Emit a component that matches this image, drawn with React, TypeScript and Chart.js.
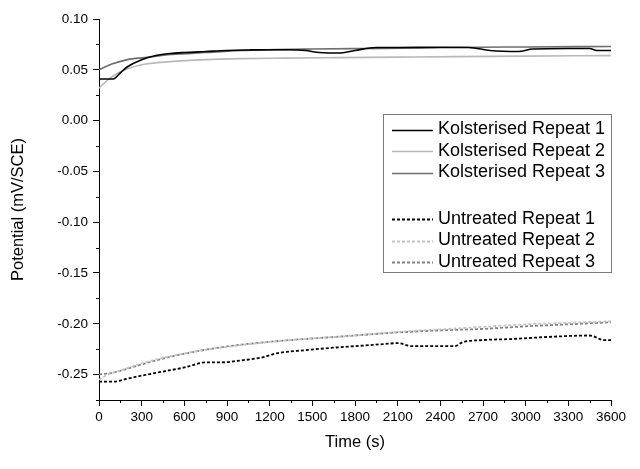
import React, { useEffect, useRef } from "react";
import { Chart, registerables } from "chart.js";

Chart.register(...registerables);

// ---- Data (time in s, potential in mV/SCE) ----
const k1Time = [0, 50, 100, 150, 200, 300, 400, 500, 600, 750, 900, 1050, 1200, 1350, 1450, 1550, 1700, 1800, 1950, 2100, 2400, 2600, 2750, 2950, 3050, 3300, 3450, 3500, 3600];
const k1Values = [0.041, 0.041, 0.041, 0.047, 0.053, 0.06, 0.064, 0.066, 0.067, 0.068, 0.069, 0.0695, 0.0698, 0.0698, 0.069, 0.067, 0.0665, 0.069, 0.072, 0.072, 0.0722, 0.072, 0.069, 0.068, 0.0705, 0.071, 0.071, 0.069, 0.069];

const k2Time = [0, 30, 80, 150, 200, 300, 500, 750, 1000, 1300, 1700, 2100, 2500, 3000, 3600];
const k2Values = [0.032, 0.036, 0.042, 0.048, 0.051, 0.055, 0.058, 0.06, 0.061, 0.0615, 0.062, 0.0625, 0.063, 0.0635, 0.064];

const k3Time = [0, 90, 200, 320, 510, 750, 1000, 1500, 2000, 2500, 3000, 3600];
const k3Values = [0.05, 0.0556, 0.06, 0.062, 0.065, 0.067, 0.069, 0.0705, 0.071, 0.072, 0.0725, 0.073];

const u1Time = [0, 100, 200, 300, 450, 600, 750, 850, 1000, 1150, 1250, 1450, 1650, 1800, 2000, 2100, 2200, 2500, 2560, 2700, 2900, 3150, 3450, 3550, 3600];
const u1Values = [-0.257, -0.257, -0.254, -0.251, -0.247, -0.243, -0.238, -0.238, -0.236, -0.233, -0.229, -0.226, -0.2235, -0.222, -0.22, -0.219, -0.222, -0.222, -0.218, -0.216, -0.215, -0.213, -0.2115, -0.216, -0.216];

const u2Time = [0, 60, 150, 300, 500, 750, 1000, 1300, 1600, 1800, 2100, 2400, 2700, 3000, 3300, 3600];
const u2Values = [-0.255, -0.25, -0.246, -0.239, -0.232, -0.2255, -0.221, -0.2165, -0.2135, -0.2115, -0.208, -0.2055, -0.203, -0.2005, -0.199, -0.1975];

const u3Time = [0, 100, 300, 500, 750, 1000, 1300, 1600, 1800, 2100, 2400, 2700, 3000, 3300, 3600];
const u3Values = [-0.25, -0.248, -0.24, -0.2325, -0.2255, -0.2205, -0.2165, -0.2135, -0.2115, -0.2085, -0.2065, -0.205, -0.2025, -0.2005, -0.1985];

const seriesLabels = [
  "Kolsterised Repeat 1",
  "Kolsterised Repeat 2",
  "Kolsterised Repeat 3",
  "Untreated Repeat 1",
  "Untreated Repeat 2",
  "Untreated Repeat 3",
];

const xMin = 0;
const xMax = 3600;
const xMajorStep = 300;
const yMin = -0.275;
const yMax = 0.1;
const yMajorStep = 0.05;

const xAxisTitle = "Time (s)";
const yAxisTitle = "Potential (mV/SCE)";

const FONT = "'Liberation Sans', Arial, sans-serif";

const toPoints = (t: number[], v: number[]) => t.map((x, i) => ({ x, y: v[i] }));

const isMajorX = (v: number) => Math.abs(v / xMajorStep - Math.round(v / xMajorStep)) < 1e-6;
const isMajorY = (v: number) => Math.abs(v / yMajorStep - Math.round(v / yMajorStep)) < 1e-6;

const minorTickPlugin = {
  id: "minorTicks",
  afterDraw(chart: any) {
    const ctx = chart.ctx;
    const xs = chart.scales.x;
    const ys = chart.scales.y;
    ctx.save();
    ctx.strokeStyle = "#000";
    ctx.lineWidth = 1;
    ctx.beginPath();
    xs.ticks.forEach((t: any) => {
      if (!isMajorX(t.value)) {
        const px = Math.round(xs.getPixelForValue(t.value)) + 0.5;
        ctx.moveTo(px, xs.top);
        ctx.lineTo(px, xs.top + 3);
      }
    });
    ys.ticks.forEach((t: any) => {
      if (!isMajorY(t.value)) {
        const py = Math.round(ys.getPixelForValue(t.value)) + 0.5;
        ctx.moveTo(ys.right, py);
        ctx.lineTo(ys.right - 3, py);
      }
    });
    ctx.stroke();
    ctx.restore();
  },
};

const boxLegendPlugin = {
  id: "boxLegend",
  afterDraw(chart: any) {
    const ctx = chart.ctx;
    const left = 383.5;
    const top = 114.5;
    const right = 611.5;
    const bottom = 272.5;
    ctx.save();
    ctx.fillStyle = "#fff";
    ctx.fillRect(left, top, right - left, bottom - top);
    ctx.strokeStyle = "#7a7a7a";
    ctx.lineWidth = 1;
    ctx.setLineDash([]);
    ctx.strokeRect(left, top, right - left, bottom - top);
    ctx.font = `18px ${FONT}`;
    ctx.textBaseline = "middle";
    ctx.textAlign = "left";
    chart.data.datasets.forEach((ds: any, i: number) => {
      const y = top + 15 + i * 21.5 + (i >= 3 ? 25 : 0);
      ctx.strokeStyle = ds.borderColor;
      ctx.lineWidth = ds.borderWidth;
      ctx.setLineDash(ds.borderDash || []);
      ctx.beginPath();
      ctx.moveTo(392, Math.round(y) + 0.5);
      ctx.lineTo(433, Math.round(y) + 0.5);
      ctx.stroke();
      ctx.setLineDash([]);
      ctx.fillStyle = "#000";
      ctx.fillText(ds.label, 438, y);
    });
    ctx.restore();
  },
};

export default function App() {
  const canvasRef = useRef<HTMLCanvasElement | null>(null);

  useEffect(() => {
    if (!canvasRef.current) return;
    const dash = [3, 2];
    const chart = new Chart(canvasRef.current, {
      type: "line",
      data: {
        datasets: [
          { label: seriesLabels[0], data: toPoints(k1Time, k1Values), borderColor: "#000000", borderWidth: 1.6 },
          { label: seriesLabels[1], data: toPoints(k2Time, k2Values), borderColor: "#b8b8b8", borderWidth: 1.6 },
          { label: seriesLabels[2], data: toPoints(k3Time, k3Values), borderColor: "#6e6e6e", borderWidth: 1.6 },
          { label: seriesLabels[3], data: toPoints(u1Time, u1Values), borderColor: "#000000", borderWidth: 1.8, borderDash: dash },
          { label: seriesLabels[4], data: toPoints(u2Time, u2Values), borderColor: "#c4c4c4", borderWidth: 1.8, borderDash: dash },
          { label: seriesLabels[5], data: toPoints(u3Time, u3Values), borderColor: "#808080", borderWidth: 1.8, borderDash: dash },
        ].map((d) => ({ ...d, pointRadius: 0, fill: false, cubicInterpolationMode: "monotone" as const })),
      },
      options: {
        animation: false,
        responsive: false,
        devicePixelRatio: 1,
        layout: { padding: { left: 0, top: 19, right: 29, bottom: 0 } },
        plugins: { legend: { display: false }, tooltip: { enabled: false } },
        scales: {
          x: {
            type: "linear",
            min: xMin,
            max: xMax,
            afterFit: (s: any) => {
              s.height = 69;
            },
            border: { display: true, color: "#000", width: 1 },
            grid: {
              display: true,
              drawOnChartArea: false,
              drawTicks: true,
              tickLength: 6,
              tickColor: (c: any) => (isMajorX(c.tick.value) ? "#000" : "rgba(0,0,0,0)"),
            },
            ticks: {
              stepSize: 150,
              autoSkip: false,
              maxRotation: 0,
              minRotation: 0,
              padding: 3,
              color: "#000",
              font: { family: FONT, size: 13.5 },
              callback: (v: any) => (isMajorX(Number(v)) ? String(Math.round(Number(v))) : ""),
            },
            title: {
              display: true,
              text: xAxisTitle,
              color: "#000",
              font: { family: FONT, size: 16.5 },
              padding: { top: 0, bottom: 17 },
            },
          },
          y: {
            type: "linear",
            min: yMin,
            max: yMax,
            afterFit: (s: any) => {
              s.width = 99;
            },
            border: { display: true, color: "#000", width: 1 },
            grid: {
              display: true,
              drawOnChartArea: false,
              drawTicks: true,
              tickLength: 6,
              tickColor: (c: any) => (isMajorY(c.tick.value) ? "#000" : "rgba(0,0,0,0)"),
            },
            ticks: {
              stepSize: 0.025,
              autoSkip: false,
              padding: 5,
              color: "#000",
              font: { family: FONT, size: 13.5 },
              callback: (v: any) => (isMajorY(Number(v)) ? Number(v).toFixed(2) : ""),
            },
            title: {
              display: true,
              text: yAxisTitle,
              color: "#000",
              font: { family: FONT, size: 16.5 },
              padding: { top: 9, bottom: 0 },
            },
          },
        },
      },
      plugins: [minorTickPlugin, boxLegendPlugin],
    });
    return () => chart.destroy();
  }, []);

  return (
    <div style={{ position: "absolute", left: 0, top: 0, width: 640, height: 469, background: "#fff" }}>
      <canvas ref={canvasRef} width={640} height={469} style={{ display: "block" }} />
    </div>
  );
}
